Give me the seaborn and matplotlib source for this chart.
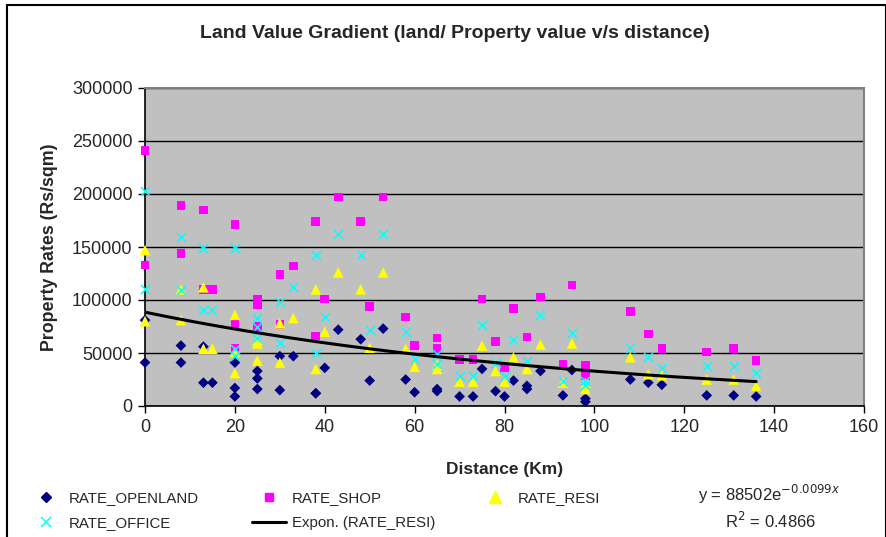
import matplotlib
matplotlib.use("Agg")
import matplotlib.pyplot as plt
from matplotlib.lines import Line2D
from matplotlib.patches import Rectangle
import numpy as np
import pandas as pd
import seaborn as sns

# distance from city centre (km) and the four rate series (Rs/sqm)
DISTANCE = [0, 0, 8, 8, 13, 13, 15, 20, 20, 20, 25, 25, 25, 30, 30, 33, 38, 38, 40, 43,
            48, 50, 53, 58, 60, 65, 65, 70, 73, 75, 78, 80, 82, 85, 85, 88, 93, 95, 98, 98,
            108, 112, 115, 125, 131, 136]
RATE_OPENLAND = [41000, 81000, 57000, 41000, 56000, 22000, 22000, 41000, 17000, 9000,
                 33000, 26000, 16000, 47000, 15000, 47000, 12000, 12000, 36000, 72000,
                 63000, 24000, 73000, 25000, 13000, 16000, 14000, 9000, 9000, 35000,
                 14000, 9000, 24000, 19000, 16000, 33000, 10000, 34000, 7000, 4000,
                 25000, 22000, 20000, 10000, 10000, 9000]
RATE_SHOP = [241000, 133000, 189000, 144000, 185000, 110000, 110000, 171000, 78000, 54000,
             101000, 96000, 75000, 124000, 77000, 132000, 174000, 66000, 101000, 197000,
             174000, 94000, 197000, 84000, 57000, 64000, 54000, 44000, 44000, 101000,
             61000, 36000, 92000, 65000, 65000, 103000, 39000, 114000, 38000, 29000,
             89000, 68000, 54000, 51000, 54000, 43000]
RATE_RESI = [147000, 80000, 110000, 81000, 112000, 54000, 54000, 86000, 51000, 31000,
             62000, 59000, 43000, 78000, 41000, 83000, 110000, 35000, 70000, 126000,
             110000, 55000, 126000, 54000, 37000, 39000, 35000, 23000, 23000, 57000,
             33000, 23000, 46000, 35000, 35000, 58000, 22000, 59000, 22000, 16000,
             46000, 30000, 29000, 25000, 25000, 19000]
RATE_OFFICE = [203000, 110000, 159000, 109000, 149000, 91000, 91000, 149000, 54000, 47000,
               83000, 75000, 64000, 98000, 59000, 112000, 142000, 50000, 84000, 162000,
               142000, 72000, 162000, 70000, 44000, 49000, 40000, 28000, 28000, 76000,
               41000, 28000, 62000, 42000, 42000, 86000, 24000, 69000, 24000, 20000,
               55000, 46000, 36000, 38000, 38000, 31000]

# Excel exponential trendline on RATE_RESI, as printed on the chart
TREND_A = 88502
TREND_B = -0.0099
TREND_R2 = 0.4866

Y_TICKS = [0, 50000, 100000, 150000, 200000, 250000, 300000]
X_TICKS = [0, 20, 40, 60, 80, 100, 120, 140, 160]

sns.set_theme(style="white")
plt.rcParams["font.family"] = ["Liberation Sans", "DejaVu Sans"]

df = pd.DataFrame({
    "distance": DISTANCE,
    "RATE_OPENLAND": RATE_OPENLAND,
    "RATE_SHOP": RATE_SHOP,
    "RATE_RESI": RATE_RESI,
    "RATE_OFFICE": RATE_OFFICE,
})

series = [
    ("RATE_OPENLAND", "#000080", "D", 30, 0),
    ("RATE_SHOP", "#FF00FF", "s", 38, 0),
    ("RATE_RESI", "#FFFF00", "^", 58, 0),
    ("RATE_OFFICE", "#00FFFF", "x", 42, 1.1),
]

W, H = 887, 537
fig = plt.figure(figsize=(W / 100, H / 100), dpi=100)
ax = fig.add_axes([145 / W, 1 - 406 / H, (864 - 145) / W, (406 - 88) / H])
ax.set_facecolor("#C0C0C0")

for name, color, marker, size, lw in series:
    if marker == "x":
        sns.scatterplot(data=df, x="distance", y=name, ax=ax, color=color, marker=marker,
                        s=size, linewidth=lw, zorder=3, clip_on=False)
    else:
        sns.scatterplot(data=df, x="distance", y=name, ax=ax, color=color, marker=marker,
                        s=size, edgecolor="none", zorder=3, clip_on=False)

trend = pd.DataFrame({"distance": np.linspace(min(DISTANCE), max(DISTANCE), 200)})
trend["fit"] = TREND_A * np.exp(TREND_B * trend["distance"])
sns.lineplot(data=trend, x="distance", y="fit", ax=ax, color="black", linewidth=2.2, zorder=4)

ax.set_xlim(0, 160)
ax.set_ylim(0, 300000)
ax.set_xticks(X_TICKS)
ax.set_yticks(Y_TICKS)
ax.set_xticklabels([str(t) for t in X_TICKS], fontsize=13)
ax.set_yticklabels([str(t) for t in Y_TICKS], fontsize=13)
ax.tick_params(axis="both", direction="out", length=5, width=1, color="black", pad=4,
               left=True, bottom=True)
ax.yaxis.grid(True, color="black", linewidth=1)
ax.set_axisbelow(True)
for side in ["top", "right"]:
    ax.spines[side].set_color("#808080")
    ax.spines[side].set_linewidth(1.5)
for side in ["left", "bottom"]:
    ax.spines[side].set_color("black")
    ax.spines[side].set_linewidth(1.2)

ax.set_xlabel("Distance (Km)", fontsize=12.5, fontweight="bold", labelpad=19)
ax.set_ylabel("Property Rates (Rs/sqm)", fontsize=12.8, fontweight="bold", labelpad=10)

fig.text(455 / W, 1 - 33 / H, "Land Value Gradient (land/ Property value v/s distance)",
         ha="center", va="center", fontsize=14, fontweight="bold")

# legend: three equal-width columns, as Excel lays them out
diamond = Line2D([], [], linestyle="none", marker="D", color="#000080", markersize=5)
cross = Line2D([], [], linestyle="none", marker="x", color="#00FFFF", markersize=7, markeredgewidth=1.1)
square = Line2D([], [], linestyle="none", marker="s", color="#FF00FF", markersize=6)
line = Line2D([], [], color="black", linewidth=2.2)
triangle = Line2D([], [], linestyle="none", marker="^", color="#FFFF00", markersize=8)

columns = [
    ([diamond, cross], ["RATE_OPENLAND", "RATE_OFFICE"], 29),
    ([square, line], ["RATE_SHOP", "Expon. (RATE_RESI)"], 252),
    ([triangle], ["RATE_RESI"], 478),
]
for hs, ls, left in columns:
    fig.legend(hs, ls, loc="upper left", bbox_to_anchor=(left / W, 1 - 491 / H),
               frameon=False, fontsize=10.8, handlelength=2.25, handletextpad=0.4,
               borderpad=0, borderaxespad=0, labelspacing=0.75)

fig.text(769 / W, 1 - 494 / H, r"y = 88502e$^{-0.0099x}$", ha="center", va="center", fontsize=12)
fig.text(771 / W, 1 - 521 / H, r"R$^2$ = " + f"{TREND_R2}", ha="center", va="center", fontsize=12)

fig.patches.append(Rectangle((7 / W, -0.02), 1 - 7 / W - 0.001, 1 - 5 / H + 0.02,
                             transform=fig.transFigure, fill=False, edgecolor="black",
                             linewidth=1.5))

fig.savefig("out.png", dpi=100)
